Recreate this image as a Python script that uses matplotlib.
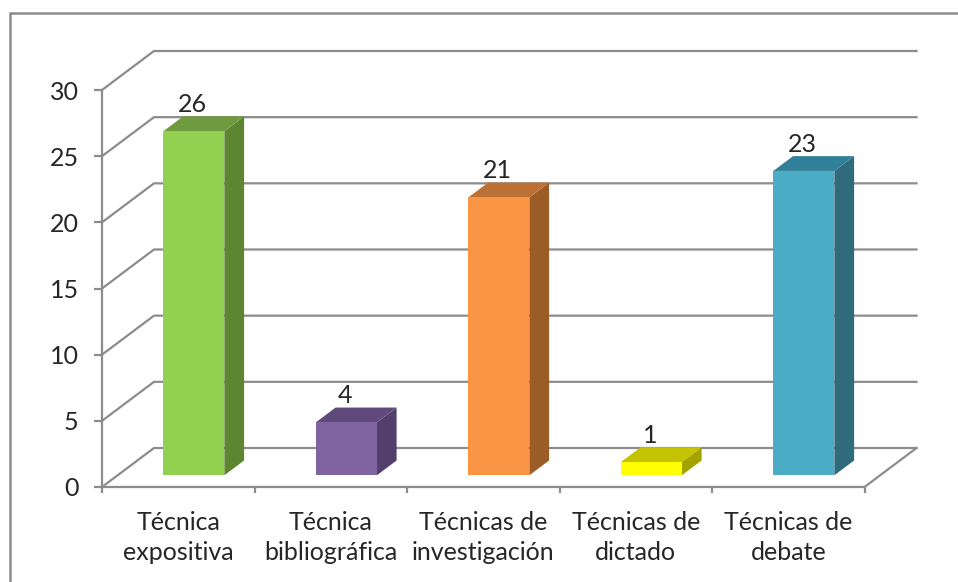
import matplotlib
matplotlib.use('Agg')
import matplotlib.pyplot as plt
from matplotlib.lines import Line2D
from matplotlib.patches import Polygon

categories = ['Técnica\nexpositiva', 'Técnica\nbibliográfica', 'Técnicas de\ninvestigación',
              'Técnicas de\ndictado', 'Técnicas de\ndebate']
values = [26, 4, 21, 1, 23]
y_ticks = [0, 5, 10, 15, 20, 25, 30]

front_colors = ['#92D050', '#8064A2', '#FB9546', '#FFFF00', '#4BACC6']
top_colors = ['#6F9A3D', '#604A7B', '#BD7034', '#C4C400', '#31809A']
side_colors = ['#5E8530', '#533F6B', '#9C5C28', '#A3A300', '#2F6B7D']

GRID = '#8C8C8C'
TEXT = '#262626'
FS = 18
W, H = 958, 582

plt.rcParams['font.family'] = ['Lato', 'DejaVu Sans']

fig = plt.figure(figsize=(W / 100, H / 100), dpi=100)
ax = fig.add_axes([102 / W, (H - 487) / H, (864.5 - 102) / W, (487 - 90) / H])
ax.set_xlim(0, len(categories))
ax.set_ylim(0, 30)

# depth of the fake 3d box, in data units per unit of depth
DX = 52 / (762.5 / 5)
DY = 39 / (397 / 30)


def proj(x, y, d):
    return x + d * DX, y + d * DY


# walls and floor
for v in y_ticks:
    pts = [proj(0, v, 0), proj(0, v, 1), proj(len(categories), v, 1)]
    ax.plot(*zip(*pts), color=GRID, lw=1.6, clip_on=False, zorder=1, solid_joinstyle='miter')
ax.plot(*zip(proj(len(categories), 0, 0), proj(len(categories), 0, 1)),
        color=GRID, lw=1.6, clip_on=False, zorder=1)

# bars
d0, d1 = 0.3, 0.68
half = 0.2
for i, v in enumerate(values):
    xl, xr = i + 0.5 - half, i + 0.5 + half
    front = [proj(xl, 0, d0), proj(xr, 0, d0), proj(xr, v, d0), proj(xl, v, d0)]
    top = [proj(xl, v, d0), proj(xr, v, d0), proj(xr, v, d1), proj(xl, v, d1)]
    side = [proj(xr, 0, d0), proj(xr, 0, d1), proj(xr, v, d1), proj(xr, v, d0)]
    ax.add_patch(Polygon(side, fc=side_colors[i], ec='none', clip_on=False, zorder=3))
    ax.add_patch(Polygon(top, fc=top_colors[i], ec='none', clip_on=False, zorder=3))
    ax.add_patch(Polygon(front, fc=front_colors[i], ec='none', clip_on=False, zorder=4))
    lx = proj(i + 0.5, v, d0)[0]
    ly = proj(i + 0.5, v, d1)[1]
    ax.annotate(str(v), xy=(lx, ly), xytext=(-1, 8.5), textcoords='offset points',
                ha='center', va='center', fontsize=FS, color=TEXT, annotation_clip=False, zorder=5)

for s in ['top', 'right']:
    ax.spines[s].set_visible(False)
for s in ['left', 'bottom']:
    ax.spines[s].set_color(GRID)
    ax.spines[s].set_linewidth(1.6)
    ax.spines[s].set_zorder(2)
ax.patch.set_visible(False)

ax.set_yticks(y_ticks)
ax.tick_params(axis='y', length=5.8, width=1.6, color=GRID, pad=11, labelsize=FS, labelcolor=TEXT)
ax.set_xticks(range(len(categories) + 1))
ax.set_xticklabels([])
ax.set_xticks([i + 0.5 for i in range(len(categories))], categories, minor=True)
ax.tick_params(axis='x', which='major', length=4.5, width=1.6, color=GRID)
ax.tick_params(axis='x', which='minor', length=0, pad=17, labelsize=FS, labelcolor=TEXT)
for t in ax.get_xticklabels(minor=True):
    t.set_linespacing(1.4)
    t.set_ha('center')

# outer frame of the chart, runs off the crop on the right and bottom
fig.add_artist(Line2D([10 / W, 10 / W, 1], [0, (H - 13) / H, (H - 13) / H],
                      color='#8C8C8C', lw=1.8, solid_joinstyle='miter'))

fig.savefig('out.png', dpi=100)
